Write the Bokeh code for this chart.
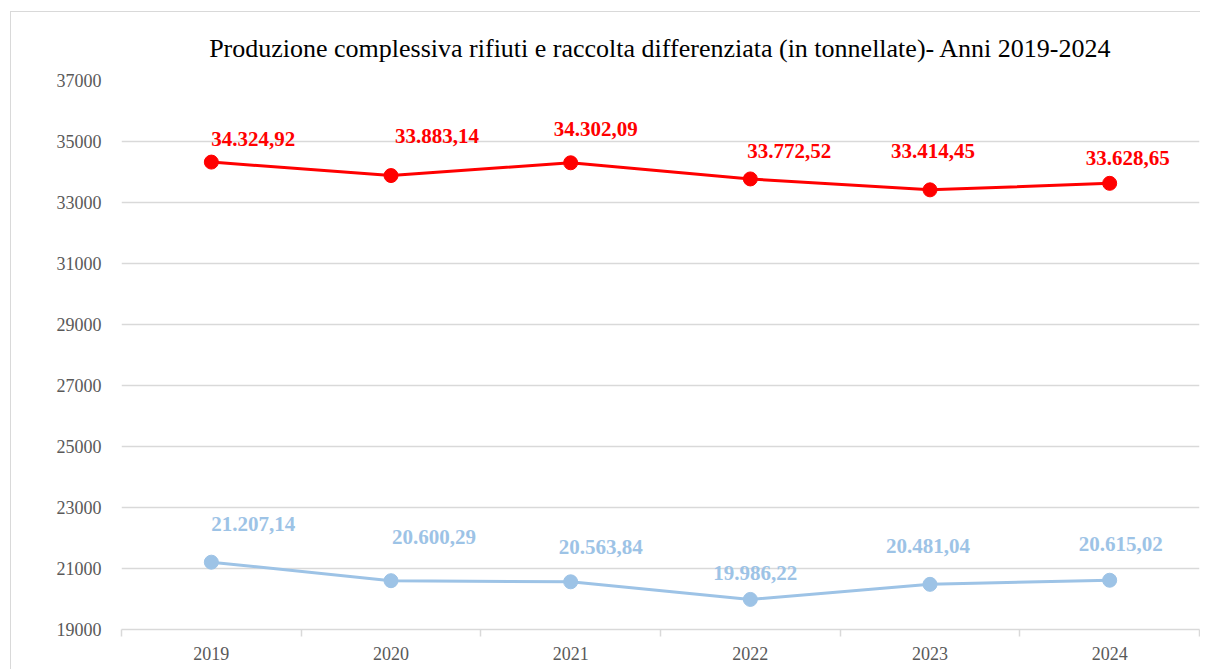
from bokeh.plotting import figure
from bokeh.models import ColumnDataSource, FixedTicker, Range1d, Title
from bokeh.embed import file_html
from bokeh.resources import INLINE
from bokeh.core.properties import value

# ---- data ----
years = ["2019", "2020", "2021", "2022", "2023", "2024"]
totale = [34324.92, 33883.14, 34302.09, 33772.52, 33414.45, 33628.65]
differenziata = [21207.14, 20600.29, 20563.84, 19986.22, 20481.04, 20615.02]
y_ticks = [19000, 21000, 23000, 25000, 27000, 29000, 31000, 33000, 35000, 37000]
title_text = "Produzione complessiva rifiuti e raccolta differenziata (in tonnellate)- Anni 2019-2024"

# label placement (screen px offsets, style only)
red_dx = [42, 46, 25, 39, 3, 18]
red_dy = [-23, -40, -34, -28, -39, -25]
blue_dx = [42, 43, 30, 5, -2, 11]
blue_dy = [-38, -44, -35, -26, -38, -36]

FONT = "Liberation Serif"
RED = "#FF0000"
BLUE = "#9DC3E6"
GRID = "#D9D9D9"
TICK_TXT = "#595959"


def fmt_it(v):
    s = f"{v:,.2f}"
    return s.replace(",", "X").replace(".", ",").replace("X", ".")


xs = list(range(len(years)))

p = figure(width=1190, height=658,
           x_range=Range1d(-0.5, len(years) - 0.5),
           y_range=Range1d(y_ticks[0], y_ticks[-1]),
           output_backend="svg", toolbar_location=None,
           min_border_left=110, min_border_right=2,
           min_border_top=68, min_border_bottom=41)
p.margin = (11, 0, 0, 10)
p.styles = {"border-top": "1px solid #D9D9D9", "border-left": "1px solid #D9D9D9"}
p.outline_line_color = None
p.background_fill_color = "white"
p.border_fill_color = "white"

# title
p.title = Title(text=title_text, align="center", text_font=FONT,
                text_font_size="26px", text_font_style="normal",
                text_color="black", standoff=35, offset=3)

# grids
p.xgrid.grid_line_color = None
p.ygrid.ticker = FixedTicker(ticks=y_ticks)
p.ygrid.grid_line_color = GRID
p.ygrid.grid_line_width = 1.5

# y axis
p.yaxis.ticker = FixedTicker(ticks=y_ticks)
p.yaxis.axis_line_color = None
p.yaxis.major_tick_line_color = None
p.yaxis.minor_tick_line_color = None
p.yaxis.major_label_text_font = FONT
p.yaxis.major_label_text_font_size = "18px"
p.yaxis.major_label_text_color = TICK_TXT
p.yaxis.major_label_standoff = 14

# x axis
p.xaxis.ticker = FixedTicker(ticks=xs, minor_ticks=[i - 0.5 for i in range(len(years) + 1)])
p.xaxis.major_label_overrides = {i: y for i, y in enumerate(years)}
p.xaxis.axis_line_color = GRID
p.xaxis.axis_line_width = 1.5
p.xaxis.major_tick_line_color = None
p.xaxis.minor_tick_line_color = GRID
p.xaxis.minor_tick_line_width = 1.5
p.xaxis.minor_tick_out = 7
p.xaxis.minor_tick_in = 0
p.xaxis.major_label_text_font = FONT
p.xaxis.major_label_text_font_size = "18px"
p.xaxis.major_label_text_color = TICK_TXT
p.xaxis.major_label_standoff = 10

# series
src_r = ColumnDataSource(dict(x=xs, y=totale, lab=[fmt_it(v) for v in totale], dx=red_dx, dy=red_dy))
src_b = ColumnDataSource(dict(x=xs, y=differenziata, lab=[fmt_it(v) for v in differenziata], dx=blue_dx, dy=blue_dy))

p.line("x", "y", source=src_r, line_color=RED, line_width=3)
p.scatter("x", "y", source=src_r, size=14, fill_color=RED, line_color=RED)
p.line("x", "y", source=src_b, line_color=BLUE, line_width=3)
p.scatter("x", "y", source=src_b, size=14, fill_color=BLUE, line_color=BLUE)

p.text("x", "y", text="lab", source=src_r, x_offset="dx", y_offset="dy",
       text_font=value(FONT), text_font_style="bold", text_font_size="21px",
       text_color=RED, text_align="center", text_baseline="middle")
p.text("x", "y", text="lab", source=src_b, x_offset="dx", y_offset="dy",
       text_font=value(FONT), text_font_style="bold", text_font_size="21px",
       text_color=BLUE, text_align="center", text_baseline="middle")

open("out.html", "w").write(file_html(p, INLINE))
